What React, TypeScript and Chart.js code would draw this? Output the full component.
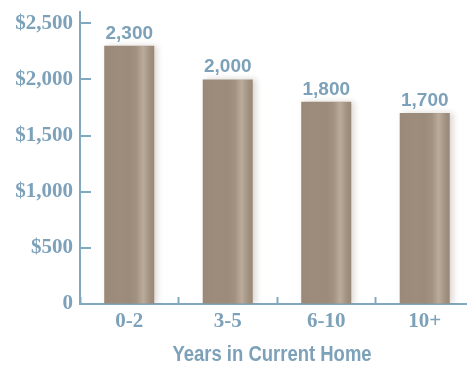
import React, { useEffect, useRef } from 'react';
import { Chart, registerables } from 'chart.js';

Chart.register(...registerables);

const categories = ['0-2', '3-5', '6-10', '10+'];
const values = [2300, 2000, 1800, 1700];
const valueLabels = ['2,300', '2,000', '1,800', '1,700'];
const yTicks = [0, 500, 1000, 1500, 2000, 2500];
const yTickLabels = ['0', '$500', '$1,000', '$1,500', '$2,000', '$2,500'];
const xTitle = 'Years in Current Home';

const BLUE = '#7ca1b9';
const AXIS = '#82a8bf';
const BAR = '#9c8b7a';

const barShine = {
  id: 'barShine',
  beforeDatasetsDraw(chart: any) {
    const ctx = chart.ctx;
    ctx.save();
    ctx.shadowColor = 'rgba(90,70,50,0.22)';
    ctx.shadowBlur = 6;
    ctx.shadowOffsetX = 3;
    ctx.shadowOffsetY = 0;
  },
  afterDatasetsDraw(chart: any) {
    const ctx = chart.ctx;
    ctx.restore();
    const meta = chart.getDatasetMeta(0);
    meta.data.forEach((el: any, i: number) => {
      const { x, y, base, width } = el.getProps(['x', 'y', 'base', 'width'], true);
      const left = x - width / 2;
      ctx.save();
      const g = ctx.createLinearGradient(left, 0, left + width, 0);
      g.addColorStop(0, 'rgba(110,95,80,0.05)');
      g.addColorStop(0.5, 'rgba(255,255,255,0)');
      g.addColorStop(0.64, 'rgba(255,245,230,0.06)');
      g.addColorStop(0.78, 'rgba(255,245,230,0.3)');
      g.addColorStop(0.9, 'rgba(255,245,230,0.08)');
      g.addColorStop(1, 'rgba(110,95,80,0.04)');
      ctx.fillStyle = g;
      ctx.fillRect(left, y, width, base - y);
      ctx.font = 'bold 19px "Liberation Sans", Arial, sans-serif';
      ctx.fillStyle = BLUE;
      ctx.textAlign = 'center';
      ctx.textBaseline = 'alphabetic';
      ctx.fillText(valueLabels[i], x, y - 7);
      ctx.restore();
    });
  },
  afterDraw(chart: any) {
    const ctx = chart.ctx;
    const ys = chart.scales.y;
    const xs = chart.scales.x;
    const area = chart.chartArea;
    ctx.save();
    ctx.strokeStyle = AXIS;
    ctx.lineWidth = 2;
    yTicks.forEach((v) => {
      if (v === 0) return;
      const py = Math.round(ys.getPixelForValue(v));
      ctx.beginPath();
      ctx.moveTo(area.left, py);
      ctx.lineTo(area.left + 11, py);
      ctx.stroke();
    });
    const cx = (area.left + area.right) / 2 - 5;
    const cy = xs.bottom - 13;
    ctx.translate(cx, cy);
    ctx.scale(0.84, 1);
    ctx.font = 'bold 22px "Liberation Sans", Arial, sans-serif';
    ctx.fillStyle = BLUE;
    ctx.textAlign = 'center';
    ctx.textBaseline = 'middle';
    ctx.fillText(xTitle, 0, 0);
    ctx.restore();
  },
};

export default function App() {
  const ref = useRef<HTMLCanvasElement>(null);
  useEffect(() => {
    if (!ref.current) return;
    const chart = new Chart(ref.current, {
      type: 'bar',
      data: {
        labels: categories,
        datasets: [
          {
            data: values,
            backgroundColor: BAR,
            borderWidth: 0,
            categoryPercentage: 1,
            barPercentage: 0.508,
          },
        ],
      },
      options: {
        animation: false,
        responsive: false,
        devicePixelRatio: 1,
        layout: { autoPadding: false, padding: { top: 12, right: 6, left: 0, bottom: 0 } },
        plugins: { legend: { display: false }, tooltip: { enabled: false } },
        scales: {
          x: {
            grid: {
              drawOnChartArea: false,
              drawTicks: true,
              tickLength: -7,
              tickWidth: 2,
              tickColor: AXIS,
              offset: true,
            },
            border: { color: AXIS, width: 2 },
            ticks: {
              color: BLUE,
              padding: 12,
              font: { family: '"Liberation Serif", "Times New Roman", serif', size: 21, weight: 'bold' },
            },
            afterFit: (s: any) => {
              s.height = 64;
              s.paddingLeft = 0;
              s.paddingRight = 0;
              s.paddingTop = 0;
              s.paddingBottom = 0;
            },
          },
          y: {
            min: 0,
            max: 2600,
            afterBuildTicks: (s: any) => {
              s.ticks = yTicks.map((v) => ({ value: v }));
            },
            grid: {
              drawOnChartArea: false,
              drawTicks: false,
            },
            border: { color: AXIS, width: 2 },
            ticks: {
              color: BLUE,
              padding: 7,
              font: { family: '"Liberation Serif", "Times New Roman", serif', size: 21, weight: 'bold' },
              callback: (_v: any, i: number) => yTickLabels[i],
            },
            afterFit: (s: any) => {
              s.width = 80;
              s.paddingLeft = 0;
              s.paddingRight = 0;
              s.paddingTop = 0;
              s.paddingBottom = 0;
            },
          },
        },
      },
      plugins: [barShine],
    });
    return () => chart.destroy();
  }, []);
  return (
    <div style={{ position: 'absolute', left: 0, top: 0, width: 480, height: 368, background: '#fff' }}>
      <canvas ref={ref} width={480} height={368} />
    </div>
  );
}
